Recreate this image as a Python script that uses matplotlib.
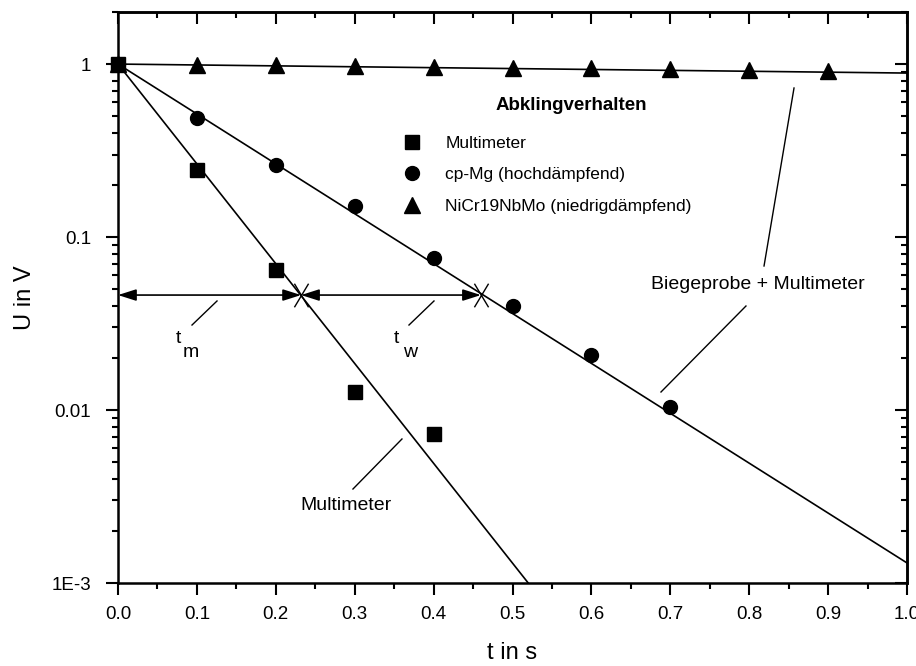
import matplotlib
matplotlib.use('Agg')
import matplotlib.pyplot as plt
import numpy as np
from matplotlib.path import Path
from matplotlib.ticker import FixedLocator, FixedFormatter, LogLocator, NullFormatter, MultipleLocator

plt.rcParams['font.family'] = ['Liberation Sans', 'DejaVu Sans']

# Messwerte
t_multi = [0.0, 0.1, 0.2, 0.3, 0.4]
u_multi = [1.0, 0.244, 0.0645, 0.0127, 0.00726]

t_mg = [0.0, 0.1, 0.2, 0.3, 0.4, 0.5, 0.6, 0.7]
u_mg = [1.0, 0.487, 0.261, 0.151, 0.0758, 0.0400, 0.0209, 0.0104]

t_ni = [0.0, 0.1, 0.2, 0.3, 0.4, 0.5, 0.6, 0.7, 0.8, 0.9]
u_ni = [1.0, 0.99, 0.985, 0.975, 0.965, 0.955, 0.945, 0.935, 0.925, 0.915]

# Ausgleichsgeraden (Steigung in Dekaden pro s)
slope_multi = -5.77
slope_mg = -2.884
slope_ni = -0.052

# Schnittpunkte
t_cross_m = 0.232
t_cross_w = 0.46
u_cross = 0.0462

yticks = [1e-3, 0.01, 0.1, 1]
ytick_labels = ['1E-3', '0.01', '0.1', '1']
xticks = [0.0, 0.1, 0.2, 0.3, 0.4, 0.5, 0.6, 0.7, 0.8, 0.9, 1.0]

fig = plt.figure(figsize=(9.16, 6.66), dpi=100)
ax = fig.add_axes([118/916, 1-583/666, 789/916, 571/666])

tt = np.linspace(0, 1, 200)
ax.plot(tt, 10**(slope_multi*tt), color='k', lw=1.2)
ax.plot(tt, 10**(slope_mg*tt), color='k', lw=1.2)
ax.plot(tt, 10**(slope_ni*tt), color='k', lw=1.2)

ax.plot(t_multi, u_multi, 's', color='k', ms=10, label='Multimeter', clip_on=False)
ax.plot(t_mg, u_mg, 'o', color='k', ms=10, label='cp-Mg (hochdämpfend)', clip_on=False)
ax.plot(t_ni, u_ni, '^', color='k', ms=12, label='NiCr19NbMo (niedrigdämpfend)', clip_on=False)

# Pfeile t_m und t_w
ap = dict(arrowstyle='<|-|>,head_length=1.1,head_width=0.35', color='k', lw=1.2,
          shrinkA=0, shrinkB=0)
ax.annotate('', xy=(0.0, u_cross), xytext=(t_cross_m, u_cross), arrowprops=ap)
ax.annotate('', xy=(t_cross_m, u_cross), xytext=(t_cross_w, u_cross), arrowprops=ap)
kreuz = Path([(-0.6, -1), (0.6, 1), (-0.6, 1), (0.6, -1)],
             [Path.MOVETO, Path.LINETO, Path.MOVETO, Path.LINETO])
ax.plot([t_cross_m, t_cross_w], [u_cross, u_cross], linestyle='none', marker=kreuz,
        color='k', ms=17, mew=1)

# Beschriftungen mit Hinweislinien
tr = ax.transAxes
ax.plot([0.0938, 0.1255], [0.4518, 0.4939], color='k', lw=1, transform=tr)
ax.plot([0.3688, 0.4005], [0.4518, 0.4939], color='k', lw=1, transform=tr)
ax.plot([0.2978, 0.3599], [0.1646, 0.2522], color='k', lw=1, transform=tr)
ax.plot([0.8188, 0.8568], [0.5552, 0.8669], color='k', lw=1, transform=tr)
ax.plot([0.7959, 0.6882], [0.4851, 0.3345], color='k', lw=1, transform=tr)

ax.text(0.0760, 0.4290, 't', transform=tr, fontsize=14, ha='center', va='center')
ax.text(0.0925, 0.4030, 'm', transform=tr, fontsize=14, ha='center', va='center')
ax.text(0.3530, 0.4290, 't', transform=tr, fontsize=14, ha='center', va='center')
ax.text(0.3700, 0.4030, 'w', transform=tr, fontsize=14, ha='center', va='center')
ax.text(0.289, 0.1349, 'Multimeter', transform=tr, fontsize=14, ha='center', va='center')
ax.text(0.811, 0.522, 'Biegeprobe + Multimeter', transform=tr, fontsize=14, ha='center', va='center')

ax.text(0.574, 0.837, 'Abklingverhalten', transform=tr, fontsize=13.5, fontweight='bold',
        ha='center', va='center')
leg = ax.legend(loc='upper left', bbox_to_anchor=(0.353, 0.796), frameon=False,
                fontsize=12.5, labelspacing=0.95, handletextpad=1.4, handlelength=1.0,
                borderaxespad=0)

ax.set_yscale('log')
ax.set_xlim(0, 1.0)
ax.set_ylim(1e-3, 2.0)

ax.xaxis.set_major_locator(FixedLocator(xticks))
ax.xaxis.set_major_formatter(FixedFormatter(['%.1f' % v for v in xticks]))
ax.xaxis.set_minor_locator(MultipleLocator(0.05))
ax.yaxis.set_major_locator(FixedLocator(yticks))
ax.yaxis.set_major_formatter(FixedFormatter(ytick_labels))
ax.yaxis.set_minor_locator(LogLocator(base=10, subs=np.arange(2, 10)))
ax.yaxis.set_minor_formatter(NullFormatter())

ax.tick_params(which='both', direction='out', width=1.5, labelsize=13.5, top=False, right=False)
ax.tick_params(which='major', length=8.5)
ax.tick_params(which='minor', length=4.5)
ax.tick_params(axis='x', pad=8)
ax.tick_params(axis='y', pad=11)
for s in ax.spines.values():
    s.set_linewidth(1.8)

# obere und rechte Achse mit Ticks nach innen
axt = ax.secondary_xaxis('top')
axt.xaxis.set_major_locator(FixedLocator(xticks))
axt.xaxis.set_minor_locator(MultipleLocator(0.05))
axt.tick_params(which='both', direction='in', width=1.5, labeltop=False)
axt.tick_params(which='major', length=8.5)
axt.tick_params(which='minor', length=4.5)
axt.spines['top'].set_linewidth(1.8)

axr = ax.secondary_yaxis('right')
axr.yaxis.set_major_locator(FixedLocator(yticks))
axr.yaxis.set_minor_locator(LogLocator(base=10, subs=np.arange(2, 10)))
axr.tick_params(which='both', direction='in', width=1.5, labelright=False)
axr.tick_params(which='major', length=8.5)
axr.tick_params(which='minor', length=4.5)
axr.spines['right'].set_linewidth(1.8)

ax.set_xlabel('t in s', fontsize=17, labelpad=14)
ax.set_ylabel('U in V', fontsize=17, labelpad=11)

fig.savefig('out.png', dpi=100)
